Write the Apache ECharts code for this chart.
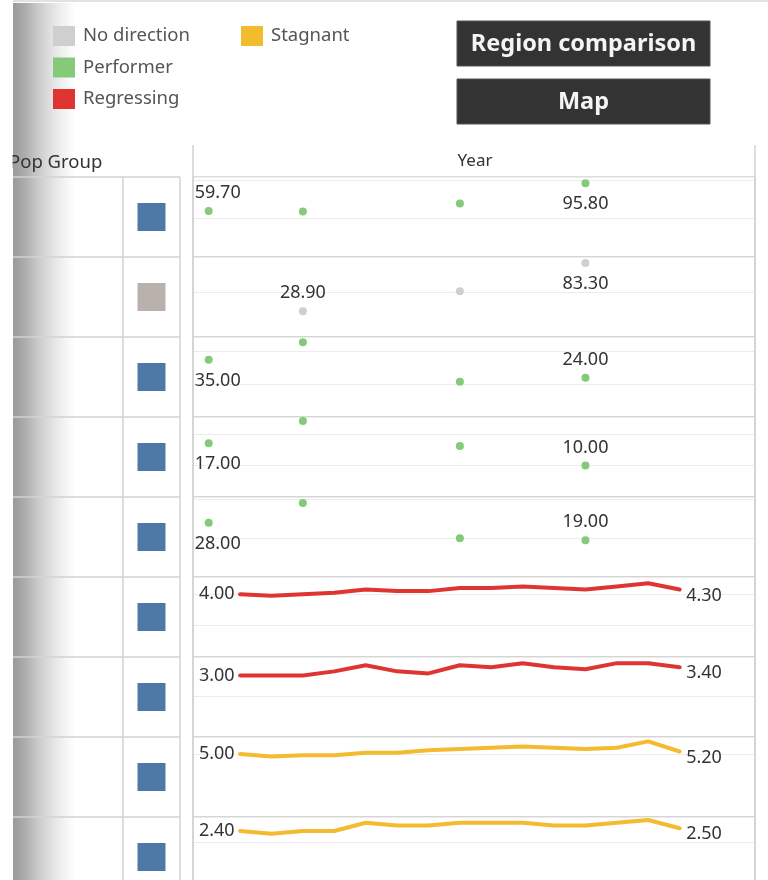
<!DOCTYPE html>
<html>
<head>
<meta charset="utf-8">
<script src="https://cdn.jsdelivr.net/npm/echarts@6/dist/echarts.min.js"></script>
<style>
html,body{margin:0;padding:0;background:#ffffff;}
#chart{width:768px;height:880px;}
</style>
</head>
<body>
<div id="chart"></div>
<script>
// ---------------- DATA ----------------
const statusNames = ['No direction', 'Performer', 'Regressing', 'Stagnant'];
const popGroups = ['Group 1', 'Group 2', 'Group 3', 'Group 4', 'Group 5', 'Group 6', 'Group 7', 'Group 8', 'Group 9'];
const popGroupShape = ['A', 'B', 'A', 'A', 'A', 'A', 'A', 'A', 'A'];
const rowStatus = ['Performer', 'No direction', 'Performer', 'Performer', 'Performer', 'Regressing', 'Regressing', 'Stagnant', 'Stagnant'];

const pointYears = [2004, 2007, 2012, 2016];
const row1Values = [59.7, 59.1, 69.6, 95.8];
const row2Values = [null, 28.9, 51.6, 83.3];
const row3Values = [35.0, 45.8, 21.6, 24.0];
const row4Values = [17.0, 24.0, 16.1, 10.0];
const row5Values = [28.0, 38.2, 20.0, 19.0];

const lineYears = [2005, 2006, 2007, 2008, 2009, 2010, 2011, 2012, 2013, 2014, 2015, 2016, 2017, 2018, 2019];
const row6Values = [4.0, 3.9, 4.0, 4.1, 4.3, 4.2, 4.2, 4.4, 4.4, 4.5, 4.4, 4.3, 4.5, 4.7, 4.3];
const row7Values = [3.0, 3.0, 3.0, 3.2, 3.5, 3.2, 3.1, 3.5, 3.4, 3.6, 3.4, 3.3, 3.6, 3.6, 3.4];
const row8Values = [5.0, 4.8, 4.9, 4.9, 5.1, 5.1, 5.3, 5.4, 5.5, 5.6, 5.5, 5.4, 5.5, 6.0, 5.2];
const row9Values = [2.4, 2.3, 2.4, 2.4, 2.7, 2.6, 2.6, 2.7, 2.7, 2.7, 2.6, 2.6, 2.7, 2.8, 2.5];

const headerPopGroup = 'Pop Group';
const headerYear = 'Year';
const buttonLabels = ['Region comparison', 'Map'];

// ---------------- STYLE / LAYOUT ----------------
const FONT = '"Noto Sans", "Open Sans", sans-serif';
const statusColors = {
  'No direction': '#cfcfcf',
  'Performer': '#84ca79',
  'Regressing': '#df3532',
  'Stagnant': '#f2bc2e'
};
const shapeColors = { A: '#4e79a7', B: '#bab0ac' };
const PANE_LEFT = 193, PANE_WIDTH = 562, ROW_TOP = 177, ROW_H = 80;
const X_MIN = 2003.5, X_MAX = 2021.4;
const rowAxisMax = [104, 90, 49, 25.3, 41.3, 5.1, 3.9, 6.35, 2.91];
const rowAxisInterval = [50, 50, 20, 10, 20, 2, 2, 5, 2];
const scatterFirstPos = ['top', 'top', 'bottom', 'bottom', 'bottom'];
const scatterLastPos = ['bottom', 'bottom', 'top', 'top', 'top'];
const scatterFirstDx = [9, 0, 9, 9, 9];
const labelColor = '#333333';
const labelSize = 18;

const scatterRows = [row1Values, row2Values, row3Values, row4Values, row5Values];
const lineRows = [row6Values, row7Values, row8Values, row9Values];

function fmt(v) { return Number(v).toFixed(2); }
function distFor(pos) { return pos === 'top' ? 5 : 8; }

// ---------------- BUILD ----------------
const grids = [], xAxes = [], yAxes = [], series = [];

// Pop group shape column
grids.push({ left: 123, top: ROW_TOP, width: 57, height: ROW_H * popGroups.length, show: false, outerBoundsMode: 'none' });
xAxes.push({ gridIndex: 0, type: 'value', min: 0, max: 1, show: false });
yAxes.push({ gridIndex: 0, type: 'category', data: popGroups, inverse: true, show: false });
series.push({
  type: 'scatter', name: '_shapes', xAxisIndex: 0, yAxisIndex: 0, silent: true,
  symbol: 'rect', symbolSize: [28, 28],
  itemStyle: { opacity: 1 },
  emphasis: { disabled: true },
  data: popGroups.map((g, i) => ({ value: [0.5, g], itemStyle: { color: shapeColors[popGroupShape[i]], opacity: 1 } }))
});

for (let r = 0; r < 9; r++) {
  const gi = r + 1;
  grids.push({
    left: PANE_LEFT, width: PANE_WIDTH, top: ROW_TOP + r * ROW_H, height: ROW_H,
    show: true, borderColor: '#d2d2d2', borderWidth: 1.5, backgroundColor: 'transparent',
    outerBoundsMode: 'none'
  });
  xAxes.push({ gridIndex: gi, type: 'value', min: X_MIN, max: X_MAX, show: true,
    axisLine: { show: false }, axisTick: { show: false }, axisLabel: { show: false }, splitLine: { show: false } });
  yAxes.push({ gridIndex: gi, type: 'value', min: 0, max: rowAxisMax[r], interval: rowAxisInterval[r],
    axisLine: { show: false }, axisTick: { show: false }, axisLabel: { show: false },
    splitLine: { show: true, lineStyle: { color: '#ececec', width: 1 } } });
}

scatterRows.forEach((vals, r) => {
  const idxs = vals.map((v, i) => v == null ? -1 : i).filter(i => i >= 0);
  const first = idxs[0], last = idxs[idxs.length - 1];
  const color = statusColors[rowStatus[r]];
  const data = [];
  vals.forEach((v, i) => {
    if (v == null) return;
    const item = { value: [pointYears[i], v] };
    if (i === first) {
      item.label = { show: true, position: scatterFirstPos[r], distance: distFor(scatterFirstPos[r]), offset: [scatterFirstDx[r], 0] };
    } else if (i === last) {
      item.label = { show: true, position: scatterLastPos[r], distance: distFor(scatterLastPos[r]) };
    }
    data.push(item);
  });
  series.push({
    type: 'scatter', name: rowStatus[r], xAxisIndex: r + 1, yAxisIndex: r + 1,
    symbol: 'circle', symbolSize: 8, itemStyle: { color: color, opacity: 1 },
    label: { show: false, color: labelColor, fontSize: labelSize, fontFamily: FONT, formatter: p => fmt(p.value[1]) },
    emphasis: { disabled: true },
    data: data
  });
});

lineRows.forEach((vals, k) => {
  const r = k + 5;
  const color = statusColors[rowStatus[r]];
  const data = vals.map((v, i) => {
    const item = { value: [lineYears[i], v] };
    if (i === 0) item.label = { show: true, position: 'left', distance: 5 };
    if (i === vals.length - 1) item.label = { show: true, position: 'right', distance: 6, offset: [0, 6] };
    return item;
  });
  series.push({
    type: 'line', name: rowStatus[r], xAxisIndex: r + 1, yAxisIndex: r + 1,
    symbol: 'circle', symbolSize: 1, showSymbol: true,
    itemStyle: { color: color }, lineStyle: { color: color, width: 4, cap: 'round', join: 'round' },
    label: { show: false, color: labelColor, fontSize: labelSize, fontFamily: FONT, formatter: p => fmt(p.value[1]) },
    emphasis: { disabled: true },
    data: data
  });
});

// ---------------- GRAPHICS (layout chrome) ----------------
const graphics = [];
graphics.push({ type: 'line', shape: { x1: 13, y1: 1, x2: 768, y2: 1 }, style: { stroke: '#e2e2e2', lineWidth: 2 }, z: 1 });
graphics.push({
  type: 'rect', shape: { x: 13, y: 3, width: 62, height: 877 }, z: 1,
  style: { fill: new echarts.graphic.LinearGradient(0, 0, 1, 0, [
    { offset: 0, color: '#9a9a9a' }, { offset: 0.18, color: '#ababab' }, { offset: 0.36, color: '#c4c4c4' },
    { offset: 0.55, color: '#dadada' }, { offset: 0.75, color: '#ededed' }, { offset: 1, color: '#ffffff' }]) }
});
graphics.push({ type: 'text', x: 9, y: 163, z: 2, style: { text: headerPopGroup, fill: '#333333', fontSize: 18.5, fontFamily: FONT, align: 'left', verticalAlign: 'middle' } });
graphics.push({ type: 'rect', shape: { x: 0, y: 0, width: 12.5, height: 880 }, style: { fill: '#ffffff' }, z: 3 });
for (let r = 0; r < 9; r++) {
  const y = ROW_TOP + r * ROW_H;
  graphics.push({ type: 'line', shape: { x1: 13, y1: y, x2: 180, y2: y }, style: { stroke: '#d2d2d2', lineWidth: 1.5 }, z: 2 });
}
graphics.push({ type: 'line', shape: { x1: 123, y1: ROW_TOP, x2: 123, y2: 880 }, style: { stroke: '#d2d2d2', lineWidth: 1.5 }, z: 2 });
graphics.push({ type: 'line', shape: { x1: 180, y1: ROW_TOP, x2: 180, y2: 880 }, style: { stroke: '#d2d2d2', lineWidth: 1.5 }, z: 2 });
graphics.push({ type: 'line', shape: { x1: PANE_LEFT, y1: 145, x2: PANE_LEFT, y2: 880 }, style: { stroke: '#d2d2d2', lineWidth: 1.5 }, z: 2 });
graphics.push({ type: 'line', shape: { x1: PANE_LEFT + PANE_WIDTH, y1: 145, x2: PANE_LEFT + PANE_WIDTH, y2: 880 }, style: { stroke: '#d2d2d2', lineWidth: 1.5 }, z: 2 });
graphics.push({ type: 'text', x: 475, y: 161, z: 2, style: { text: headerYear, fill: '#333333', fontSize: 17, fontFamily: FONT, align: 'center', verticalAlign: 'middle' } });
buttonLabels.forEach((t, i) => {
  const top = 21 + i * 58;
  graphics.push({ type: 'rect', shape: { x: 457, y: top, width: 253, height: 45 }, style: { fill: '#333333', stroke: '#555555', lineWidth: 1 }, z: 2 });
  graphics.push({ type: 'text', x: 583.5, y: top + 23, z: 3, style: { text: t, fill: '#f4f4f4', fontSize: 23.5, fontWeight: 'bold', fontFamily: FONT, align: 'center', verticalAlign: 'middle' } });
});

// ---------------- CHART ----------------
const chart = echarts.init(document.getElementById('chart'), null, { renderer: 'canvas' });
const legendCommon = {
  orient: 'vertical', icon: 'rect', itemWidth: 22, itemHeight: 20, itemGap: 11.5,
  selectedMode: false, padding: 0,
  textStyle: { color: '#555555', fontSize: 18.5, fontFamily: FONT, padding: [0, 0, 0, 3] }
};
chart.setOption({
  animation: false,
  backgroundColor: '#ffffff',
  textStyle: { fontFamily: FONT },
  legend: [
    Object.assign({}, legendCommon, { left: 53, top: 26, data: [statusNames[0], statusNames[1], statusNames[2]] }),
    Object.assign({}, legendCommon, { left: 241, top: 26, data: [statusNames[3]] })
  ],
  grid: grids,
  xAxis: xAxes,
  yAxis: yAxes,
  series: series,
  graphic: { elements: graphics }
});
</script>
</body>
</html>
